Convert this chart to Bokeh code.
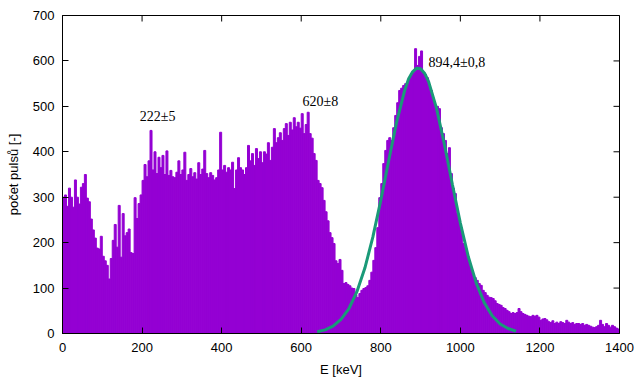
import math
from bokeh.plotting import figure
from bokeh.models import ColumnDataSource, FixedTicker, Range1d
from bokeh.core.properties import value
from bokeh.embed import file_html
from bokeh.resources import INLINE

# Histogram: counts in 5 keV bins from 0 to 1400 keV
bin_width = 5
counts = [
    300, 305, 280, 320, 300, 278, 338, 300, 285, 322, 330, 350, 298, 290, 252, 228, 210, 188, 186, 214,
    170, 160, 150, 120, 165, 205, 240, 190, 282, 168, 264, 215, 222, 230, 178, 176, 299, 253, 286, 305,
    337, 372, 345, 380, 447, 360, 400, 352, 388, 365, 392, 350, 402, 348, 359, 345, 343, 355, 380, 350,
    360, 399, 337, 350, 363, 345, 354, 340, 376, 350, 362, 403, 352, 343, 354, 348, 338, 343, 360, 443,
    360, 370, 355, 365, 360, 377, 319, 360, 387, 365, 360, 350, 365, 414, 380, 396, 370, 407, 385, 400,
    376, 400, 395, 420, 381, 410, 451, 420, 431, 442, 425, 451, 462, 436, 465, 448, 475, 455, 465, 452,
    484, 440, 460, 487, 440, 430, 396, 381, 337, 330, 321, 293, 268, 248, 222, 211, 198, 160, 154, 163,
    139, 110, 112, 108, 105, 100, 99, 85, 79, 88, 95, 99, 101, 105, 117, 135, 161, 189, 233, 299,
    330, 374, 403, 425, 431, 425, 453, 480, 508, 535, 540, 546, 550, 552, 563, 570, 574, 627, 590, 610,
    622, 574, 570, 563, 545, 535, 513, 498, 500, 495, 453, 440, 425, 396, 409, 352, 320, 308, 264, 250,
    233, 198, 190, 176, 160, 145, 130, 123, 117, 110, 106, 95, 90, 84, 80, 79, 77, 72, 66, 64,
    62, 57, 55, 51, 48, 44, 46, 44, 46, 55, 48, 44, 42, 40, 38, 37, 40, 38, 40, 36,
    29, 32, 33, 30, 26, 24, 28, 22, 25, 22, 26, 24, 22, 29, 25, 22, 24, 20, 22, 22,
    20, 22, 18, 20, 18, 16, 14, 13, 15, 18, 29, 20, 15, 22, 18, 14, 18, 15, 12, 10,
]
energies = [bin_width * i + bin_width / 2 for i in range(len(counts))]

# Gaussian fit curve
fit_energy = [640, 660, 680, 700, 720, 740, 760, 780, 800, 820, 840, 860, 870, 880, 890, 900,
              910, 920, 940, 960, 980, 1000, 1020, 1040, 1060, 1080, 1100, 1120, 1140]
fit_counts = [4, 8, 16, 31, 55, 92, 144, 212, 293, 381, 466, 535, 561, 576, 584, 583,
              573, 555, 496, 416, 328, 243, 169, 111, 68, 39, 21, 11, 5]

# Peak annotations
peak_labels = ["222±5", "620±8", "894,4±0,8"]
peak_label_x = [239, 648, 920]
peak_label_y = [478, 511, 597]
peak_label_align = ["center", "center", "left"]

x_min, x_max = 0, 1400
y_min, y_max = 0, 700
x_ticks = [0, 200, 400, 600, 800, 1000, 1200, 1400]
y_ticks = [0, 100, 200, 300, 400, 500, 600, 700]

p = figure(width=640, height=384, output_backend="svg", toolbar_location=None,
           x_range=Range1d(x_min, x_max), y_range=Range1d(y_min, y_max),
           min_border_left=62, min_border_right=21, min_border_top=15, min_border_bottom=51)
p.background_fill_color = "white"
p.border_fill_color = "white"
p.outline_line_color = "black"
p.outline_line_width = 1
p.xgrid.visible = False
p.ygrid.visible = False

src = ColumnDataSource(dict(x=energies, top=counts))
p.vbar(x="x", top="top", width=bin_width, bottom=0, source=src,
       fill_color="#9400d3", line_color="#9400d3", line_width=1)

p.line(fit_energy, fit_counts, line_color="#1a9a78", line_width=3)

lab = ColumnDataSource(dict(x=peak_label_x, y=peak_label_y, t=peak_labels, a=peak_label_align))
p.text(x="x", y="y", text="t", text_align="a", source=lab, text_baseline="middle",
       text_font=value("Liberation Serif"), text_font_size="14px", text_color="black")

# mirrored inward ticks on the top and right borders (half of each dash is clipped by the frame)
p.scatter(x=x_ticks, y=[y_max] * len(x_ticks), marker="dash", size=12, angle=math.pi / 2,
          line_color="black", line_width=1)
p.scatter(x=[x_max] * len(y_ticks), y=y_ticks, marker="dash", size=12,
          line_color="black", line_width=1)

font = "Liberation Sans"
for ax in (p.xaxis[0], p.yaxis[0]):
    ax.major_tick_in = 6
    ax.major_tick_out = 0
    ax.minor_tick_in = 0
    ax.minor_tick_out = 0
    ax.axis_line_color = "black"
    ax.major_tick_line_color = "black"
    ax.major_label_text_font = font
    ax.major_label_text_font_size = "13px"
    ax.major_label_text_color = "black"
    ax.axis_label_text_font = font
    ax.axis_label_text_font_size = "13px"
    ax.axis_label_text_font_style = "normal"
    ax.axis_label_text_color = "black"

p.xaxis[0].ticker = FixedTicker(ticks=x_ticks)
p.yaxis[0].ticker = FixedTicker(ticks=y_ticks)
p.xaxis[0].axis_label = "E [keV]"
p.yaxis[0].axis_label = "počet pulsů [-]"
p.xaxis[0].major_label_standoff = 9
p.yaxis[0].major_label_standoff = 8
p.xaxis[0].axis_label_standoff = 7
p.yaxis[0].axis_label_standoff = 9

open("out.html", "w").write(file_html(p, INLINE))
